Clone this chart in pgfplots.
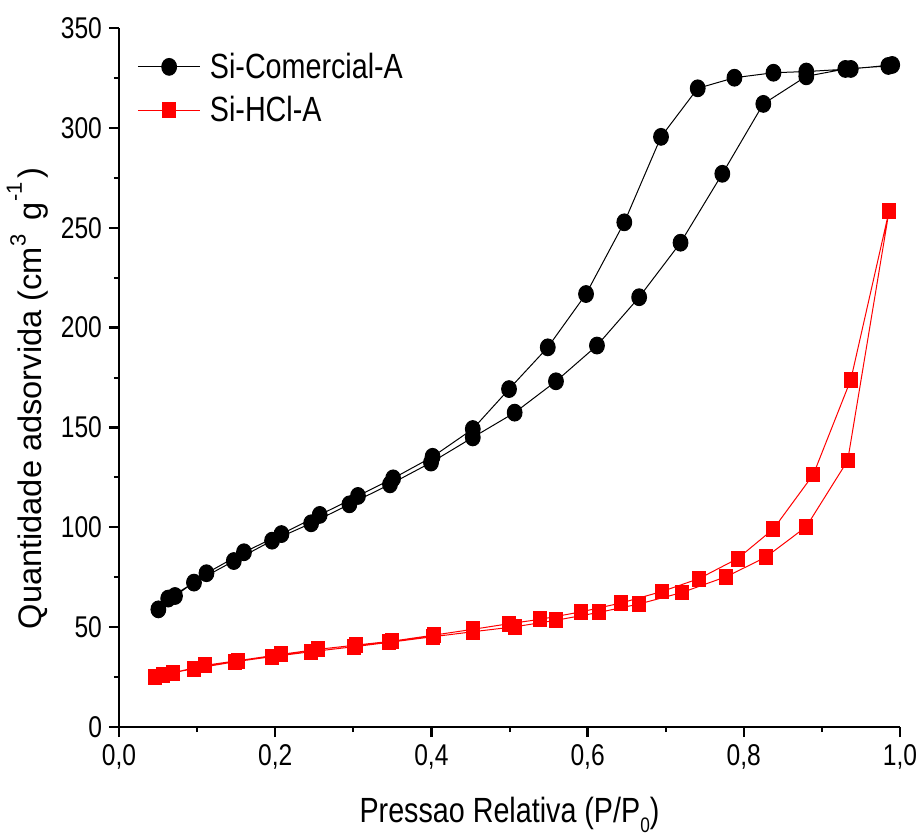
\documentclass[border=0pt]{standalone}
\usepackage{fontspec}
\setmainfont{Liberation Sans}[FakeStretch=0.82]
\newfontfamily\yfont{Liberation Sans}
\usepackage{pgfplots}
\pgfplotsset{compat=1.18}
\begin{document}
\begin{tikzpicture}
\useasboundingbox (-59.5pt,-54.5pt) rectangle (400.5pt,363.5pt);
\begin{axis}[
 scale only axis, width=390.5pt, height=349.5pt,
 at={(0,0)}, anchor=south west,
 xmin=0, xmax=1, ymin=0, ymax=350,
 axis lines=left, axis line style={-, line width=1.2pt},
 tick align=outside,
 major tick length=5pt, minor tick length=2.5pt,
 every tick/.style={black, line width=1.2pt},
 every minor tick/.style={black, line width=1pt},
 xtick={0,0.2,0.4,0.6,0.8,1.0}, minor xtick={0.1,0.3,0.5,0.7,0.9},
 ytick={0,50,100,150,200,250,300,350}, minor ytick={25,75,125,175,225,275,325},
 ticklabel style={font=\fontsize{15}{18}\selectfont},
 /pgf/number format/assume math mode=true,
 xticklabel style={/pgf/number format/.cd, use comma, fixed, fixed zerofill, precision=1},
 yticklabel style={/pgf/number format/.cd, fixed, precision=0},
 xlabel={Pressao Relativa (P/P\raisebox{-0.3em}{\fontsize{10.5}{11}\selectfont 0})},
 ylabel={Quantidade adsorvida (cm\raisebox{0.5em}{\fontsize{11}{11}\selectfont 3}\hspace{0.45em}g\raisebox{0.62em}{\fontsize{11}{11}\selectfont -1}\hspace{0.12em})},
 xlabel style={font=\fontsize{17.5}{20}\selectfont, at={(axis description cs:0.5,-0.136)}, anchor=base},
 ylabel style={font=\yfont\fontsize{16.3}{20}\selectfont, at={(axis description cs:-0.0986,0.47)}, anchor=base},
 legend style={at={(axis description cs:0.023,0.971)}, anchor=north west, draw=none, fill=none,
   font=\fontsize{17.5}{20}\selectfont, row sep=3.5pt, inner sep=0pt},
 legend cell align=left,
 legend image code/.code={\draw[mark repeat=2,mark phase=2] plot coordinates {(0cm,0cm) (0.55cm,0cm) (1.1cm,0cm)};},
]
\addplot[black, line width=0.5pt, mark=*, mark size=4.2pt, mark options={xscale=0.88, fill=black}] coordinates {
(0.0504,58.9) (0.063,64.3) (0.096,72.3) (0.147,83.1) (0.196,93.3) (0.246,102.0) (0.295,111.5)
(0.347,121.5) (0.3995,132.4) (0.453,145.0) (0.5066,157.4) (0.5595,173.1) (0.612,191.0) (0.666,215.2)
(0.719,242.5) (0.7725,277.0) (0.825,312.0) (0.880,325.8) (0.930,329.5) (0.985,331.0)
(0.990,331.5) (0.937,329.5) (0.880,328.2) (0.838,327.6) (0.788,325.1) (0.741,319.8) (0.694,295.5)
(0.647,252.7) (0.598,216.8) (0.549,190.1) (0.4994,169.2) (0.453,149.2) (0.4015,135.3) (0.351,124.5)
(0.306,115.7) (0.257,106.2) (0.208,96.6) (0.160,87.5) (0.112,77.0) (0.0717,65.6)
};
\addlegendentry{\hspace*{2.5pt}Si-Comercial-A}
\addplot[red, line width=0.5pt, mark=square*, mark size=3.7pt, mark options={xscale=0.88, fill=red}] coordinates {
(0.046,24.9) (0.069,27.2) (0.096,29.2) (0.149,32.7) (0.1955,35.2) (0.246,37.7) (0.301,40.2)
(0.346,42.4) (0.402,45.2) (0.453,47.7) (0.507,50.2) (0.559,53.4) (0.6146,57.4) (0.666,61.6)
(0.7205,67.3) (0.7777,75.3) (0.828,85.0) (0.880,100.3) (0.933,133.4) (0.986,258.4)
(0.937,173.9) (0.889,126.4) (0.838,99.2) (0.792,84.3) (0.7426,74.3) (0.6948,67.8) (0.643,62.1)
(0.591,57.6) (0.539,53.9) (0.499,51.7) (0.453,48.9) (0.403,46.0) (0.350,43.0) (0.303,41.0)
(0.255,38.9) (0.208,36.4) (0.152,33.2) (0.1105,30.9) (0.056,26.0)
};
\addlegendentry{\hspace*{2.5pt}Si-HCl-A}
\end{axis}
\end{tikzpicture}
\end{document}
